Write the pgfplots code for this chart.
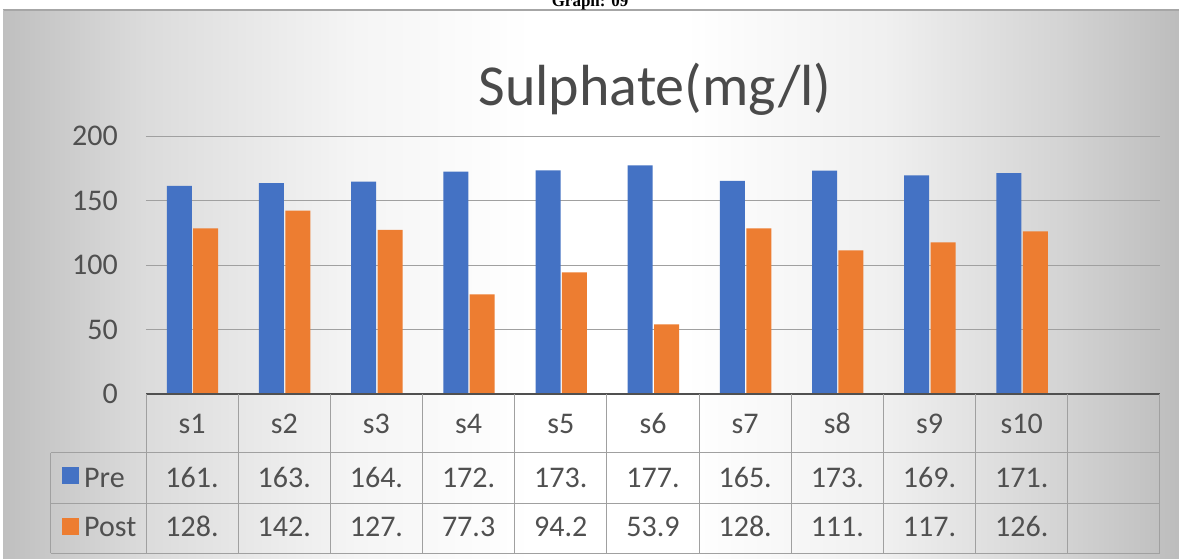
\documentclass[border=0pt]{standalone}
\usepackage{pgfplots}
\pgfplotsset{compat=1.18}
\usepackage{fontspec}
\setmainfont{Carlito}
\newfontfamily\serifbold{Liberation Serif}
\definecolor{exblue}{HTML}{4472C4}
\definecolor{exorange}{HTML}{ED7D31}
\definecolor{txtgray}{HTML}{505050}
\definecolor{titlegray}{HTML}{4A4A4A}
\definecolor{gridgray}{HTML}{A0A0A0}
\definecolor{tablegray}{HTML}{A0A0A0}
\pgfdeclarehorizontalshading{bgshade}{100bp}{%
  color(0bp)=(black!25); color(25bp)=(black!25); color(31bp)=(black!14); color(40bp)=(black!4); color(47.5bp)=(white); color(54bp)=(white); color(62.5bp)=(black!6); color(70bp)=(black!17); color(75bp)=(black!26); color(100bp)=(black!26)}
\begin{document}
\begin{tikzpicture}
\begin{scope}[x=1pt,y=1pt]
\useasboundingbox (0,0) rectangle (1179,558);
% background frame
\shade[shading=bgshade] (3,0) rectangle (1179,548);
\draw[black!35, line width=1.5pt] (3,548) -- (1179,548);
\draw[black!25, line width=1pt] (3,0) -- (3,548);
% top caption (cut by the page edge as in the reference)
\node[anchor=base, font=\serifbold\bfseries\fontsize{17}{20}\selectfont] at (590,551) {Graph: 09};
% title
\node[anchor=base, text=titlegray, font=\fontsize{58}{64}\selectfont] at (655,452) {Sulphate(mg/l)};
\end{scope}
\begin{axis}[
  at={(146pt,164pt)}, anchor=south west,
  scale only axis, width=1014pt, height=258pt,
  xmin=-0.5, xmax=10.5, ymin=0, ymax=200,
  axis line style={draw=none},
  xtick={0,...,9}, xticklabels={s1,s2,s3,s4,s5,s6,s7,s8,s9,s10},
  major tick length=0pt,
  xticklabel style={anchor=base, yshift=-39.3pt, inner sep=0pt, text=txtgray, font=\fontsize{30}{34}\selectfont},
  ytick={0,50,100,150,200},
  yticklabel style={anchor=east, inner sep=0pt, xshift=-28pt, text=txtgray, font=\fontsize{30}{34}\selectfont},
  /pgf/number format/assume math mode=true,
  ymajorgrids, major grid style={gridgray, line width=1pt},
  clip=false,
  ybar, bar width=25pt,
]
\addplot[fill=exblue, draw=none, bar shift=-12.8pt] coordinates {
  (0,161.4) (1,163.5) (2,164.6) (3,172.3) (4,173.4) (5,177.2) (6,165.3) (7,173.2) (8,169.4) (9,171.2)};
\addplot[fill=exorange, draw=none, bar shift=13.6pt] coordinates {
  (0,128.3) (1,142.1) (2,127.2) (3,77.3) (4,94.2) (5,53.9) (6,128.4) (7,111.3) (8,117.5) (9,126.1)};
\end{axis}
\begin{scope}[x=1pt,y=1pt]
% x axis line
\draw[txtgray, line width=1.6pt] (146,164) -- (1160,164);
% data table
\begin{scope}[tablegray, line width=1pt]
  \draw (50.7,105.3) -- (1160,105.3);
  \draw (50.7,54.7) -- (1160,54.7);
  \draw (50.7,4.7) -- (1160,4.7);
  \draw (50.7,105.3) -- (50.7,4.7);
  \foreach \k in {0,...,11} { \draw ({146+92.18*\k},164) -- ({146+92.18*\k},4.7); }
\end{scope}
\fill[exblue] (62,74.5) rectangle (79,91.5);
\fill[exorange] (62,23.5) rectangle (79,40.5);
\node[anchor=base west, inner sep=0pt, text=txtgray, font=\fontsize{30}{34}\selectfont] at (84,70.7) {Pre};
\node[anchor=base west, inner sep=0pt, text=txtgray, font=\fontsize{30}{34}\selectfont] at (84,21.3) {Post};
\foreach \v [count=\i from 0] in {161.,163.,164.,172.,173.,177.,165.,173.,169.,171.} {
  \node[anchor=base, inner sep=0pt, text=txtgray, font=\fontsize{30}{34}\selectfont] at ({146+92.18*(\i+0.5)},70.7) {\v};
}
\foreach \v [count=\i from 0] in {128.,142.,127.,77.3,94.2,53.9,128.,111.,117.,126.} {
  \node[anchor=base, inner sep=0pt, text=txtgray, font=\fontsize{30}{34}\selectfont] at ({146+92.18*(\i+0.5)},21.3) {\v};
}
\end{scope}
\end{tikzpicture}
\end{document}
